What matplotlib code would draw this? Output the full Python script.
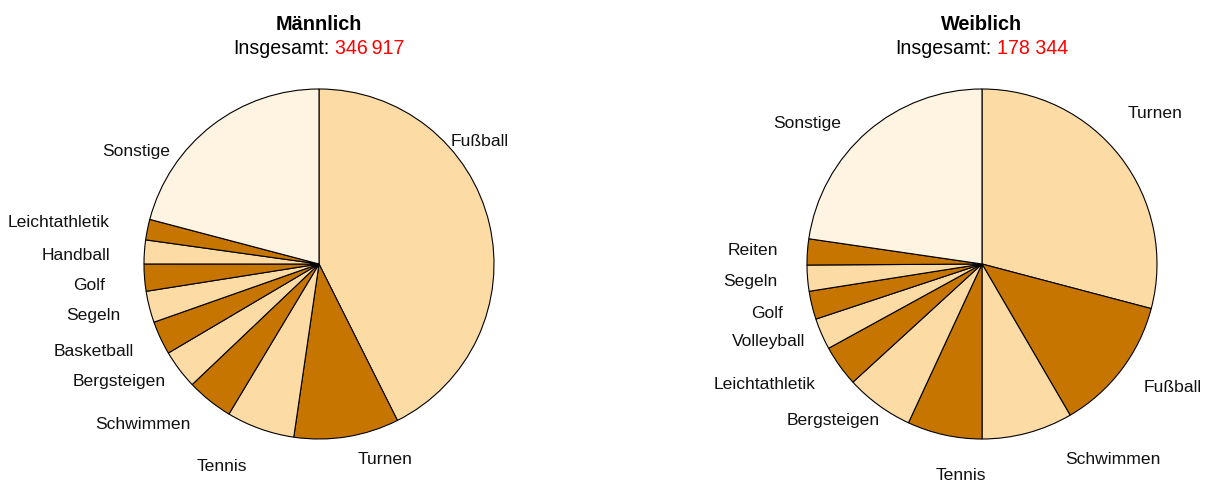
import numpy as np
import matplotlib
matplotlib.use("Agg")
import matplotlib.pyplot as plt

plt.rcParams['font.family'] = ['Liberation Sans', 'DejaVu Sans']

# ---- data ----
male_labels = ["Fußball", "Turnen", "Tennis", "Schwimmen", "Bergsteigen", "Basketball",
               "Segeln", "Golf", "Handball", "Leichtathletik", "Sonstige"]
male_values = [147800, 33650, 21860, 14920, 12490, 10750, 10060, 8670, 7630, 6590, 72497]
male_total = "346\u2009917"

female_labels = ["Turnen", "Fußball", "Schwimmen", "Tennis", "Bergsteigen", "Leichtathletik",
                 "Volleyball", "Golf", "Segeln", "Reiten", "Sonstige"]
female_values = [51900, 22290, 14980, 12310, 11240, 6780, 5170, 4640, 4280, 4280, 40474]
female_total = "178 344"

LIGHT = "#FDDBA5"
DARK = "#C67600"
OTHER = "#FFF3E1"

W, H = 1211, 485
R = 175.0  # pie radius in px
CY = 265.0

fig = plt.figure(figsize=(W / 100, H / 100), dpi=100)

# label tweaks: name -> (angle offset deg clockwise, radius factor, ha or None)
male_tweaks = {"Fußball": (-30, 1.03, None), "Turnen": (-2, 1.135, 'left'),
               "Tennis": (0, 1.22, 'right'), "Sonstige": (-15, 1.07, None),
               "Bergsteigen": (0, 1.10, None), "Golf": (-1, 1.23, None),
               "Handball": (-1.5, 1.195, None), "Leichtathletik": (0, 1.22, None)}
female_tweaks = {"Turnen": (-8.5, 1.2, None), "Schwimmen": (-8, 1.21, 'left'),
                 "Tennis": (0, 1.23, 'left'), "Bergsteigen": (-3, 1.065, None),
                 "Sonstige": (-4, 1.14, None), "Volleyball": (0, 1.10, None),
                 "Fußball": (0, 1.16, None)}


def draw_pie(cx, x0, x1, labels, values, title, total, total_family, tweaks):
    ax = fig.add_axes([x0 / W, 0, (x1 - x0) / W, 1])
    colors = [LIGHT if i % 2 == 0 else DARK for i in range(len(values) - 1)] + [OTHER]
    ax.pie(values, colors=colors, startangle=90, counterclock=False,
           radius=1.0, center=(0, 0), frame=True,
           wedgeprops=dict(edgecolor='black', linewidth=0.8))
    ax.set_xlim((x0 - cx) / R, (x1 - cx) / R)
    ax.set_ylim(-(H - CY) / R, CY / R)
    ax.set_aspect('auto')
    ax.axis('off')
    vals = np.array(values, dtype=float)
    cum = np.cumsum(vals) / vals.sum() * 360.0
    start = np.concatenate([[0], cum[:-1]])
    mids = (start + cum) / 2
    for name, m in zip(labels, mids):
        da, rf, ha = tweaks.get(name, (0, 1.17, None))
        a = np.deg2rad(m + da)
        x = rf * np.sin(a)
        y = rf * np.cos(a)
        if ha is None:
            ha = 'left' if x > 0 else 'right'
        ax.text(x, y, name, ha=ha, va='center', fontsize=12.6, color='#111111')
    # titles (figure pixel coordinates)
    fig.text(cx / W, 1 - 29.5 / H, title, ha='center', va='baseline',
             fontsize=14.3, fontweight='bold', color='black')
    r = fig.canvas.get_renderer()
    t1 = fig.text(0, 0, "Insgesamt:", fontsize=14.1, va='baseline')
    t2 = fig.text(0, 0, total, fontsize=14.1, va='baseline', color='#FF0000',
                  family=total_family)
    tsp = fig.text(0, 0, "a a", fontsize=14.1)
    tnsp = fig.text(0, 0, "aa", fontsize=14.1)
    w1 = t1.get_window_extent(r).width
    w2 = t2.get_window_extent(r).width
    sp = tsp.get_window_extent(r).width - tnsp.get_window_extent(r).width
    tsp.remove(); tnsp.remove()
    tot = w1 + sp + w2
    left = cx - tot / 2
    yb = 1 - 54.3 / H
    t1.set_position((left / W, yb))
    t2.set_position(((left + w1 + sp) / W, yb))


draw_pie(319.0, 0, 640, male_labels, male_values, "Männlich", male_total,
         ['Liberation Sans Narrow', 'Liberation Sans', 'DejaVu Sans'], male_tweaks)
draw_pie(982.0, 640, W, female_labels, female_values, "Weiblich", female_total,
         ['Liberation Sans', 'DejaVu Sans'], female_tweaks)

fig.savefig("out.png", dpi=100, facecolor='white')
